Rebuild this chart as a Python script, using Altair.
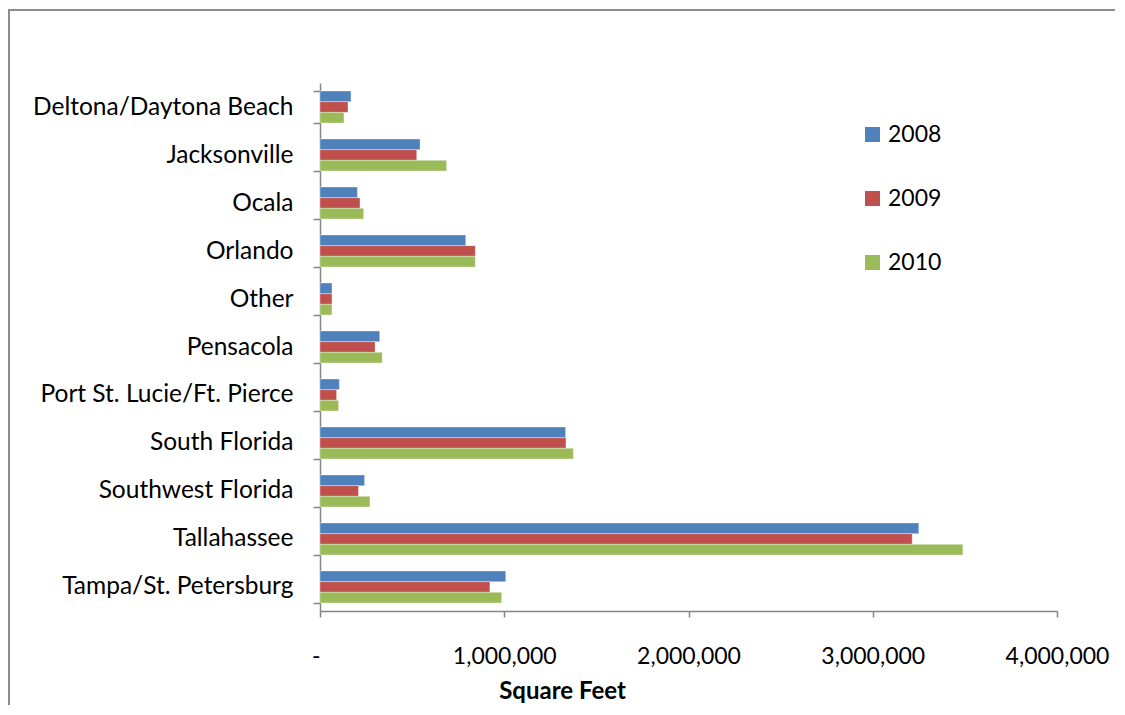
import altair as alt
import pandas as pd

categories = ["Deltona/Daytona Beach", "Jacksonville", "Ocala", "Orlando", "Other",
              "Pensacola", "Port St. Lucie/Ft. Pierce", "South Florida",
              "Southwest Florida", "Tallahassee", "Tampa/St. Petersburg"]
years = ["2008", "2009", "2010"]
v2008 = [168000, 543000, 203000, 791000, 65000, 324000, 105000, 1333000, 242000, 3250000, 1008000]
v2009 = [152000, 525000, 217000, 843000, 65000, 299000, 90000, 1335000, 209000, 3214000, 922000]
v2010 = [130000, 687000, 237000, 843000, 65000, 338000, 101000, 1375000, 271000, 3489000, 986000]
colors = ["#4F81BD", "#C0504D", "#9BBB59"]

rows = []
for yr, vals in zip(years, [v2008, v2009, v2010]):
    for c, v in zip(categories, vals):
        rows.append({"Region": c, "Year": yr, "Value": v})
df = pd.DataFrame(rows)

FONT = "Lato"
GRAY = "#868686"

bars = alt.Chart(df).mark_bar(stroke="white", strokeOpacity=0.35, strokeWidth=1).encode(
    y=alt.Y("Region:N", sort=categories,
            scale=alt.Scale(paddingInner=0.333, paddingOuter=0.1667),
            axis=alt.Axis(title=None, tickBand="extent", tickSize=7, labelPadding=20,
                          labelFontSize=24.5, labelFont=FONT, labelColor="black",
                          domainColor=GRAY, tickColor=GRAY, domainWidth=1.5, tickWidth=1.5,
                          labelLimit=400)),
    yOffset=alt.YOffset("Year:N", sort=years),
    x=alt.X("Value:Q", scale=alt.Scale(domain=[0, 4000000], nice=False),
            axis=alt.Axis(title="Square Feet", values=[0, 1000000, 2000000, 3000000, 4000000],
                          labelExpr="datum.value == 0 ? '-' : format(datum.value, ',')",
                          labelAlign={"condition": {"test": "datum.value == 0", "value": "right"},
                                      "value": "center"},
                          grid=False, tickSize=6, labelPadding=28,
                          labelFontSize=23, labelFont=FONT, labelColor="black",
                          domainColor=GRAY, tickColor=GRAY, domainWidth=1.5, tickWidth=1.5,
                          titleFont=FONT, titleFontSize=24, titleFontWeight="bold",
                          titleColor="black", titleX=242, titleY=87,
                          titleBaseline="alphabetic", titleAlign="center")),
    color=alt.Color("Year:N", sort=years,
                    scale=alt.Scale(domain=years, range=colors),
                    legend=alt.Legend(title=None, orient="none", legendX=541, legendY=40,
                                      symbolType="square", symbolSize=225,
                                      symbolStrokeWidth=0, rowPadding=40,
                                      labelFont=FONT, labelFontSize=23, labelColor="black",
                                      labelOffset=4)),
)

frame_data = alt.Data(values=[{"k": 1}])
left_line = alt.Chart(frame_data).mark_rule(color="#8c8c8c", strokeWidth=2).encode(
    x=alt.value(-311), y=alt.value(-73), y2=alt.value(630))
top_line = alt.Chart(frame_data).mark_rule(color="#8c8c8c", strokeWidth=2).encode(
    x=alt.value(-312), x2=alt.value(800), y=alt.value(-73))

chart = alt.layer(bars, left_line, top_line).properties(
    width=737, height=528,
    background="white",
    autosize=alt.AutoSizeParams(type="none"),
    padding={"left": 312, "top": 75, "right": 58, "bottom": 94},
).configure_view(strokeWidth=0)

chart.save("out.html", embed_options={"renderer": "svg", "actions": False})
